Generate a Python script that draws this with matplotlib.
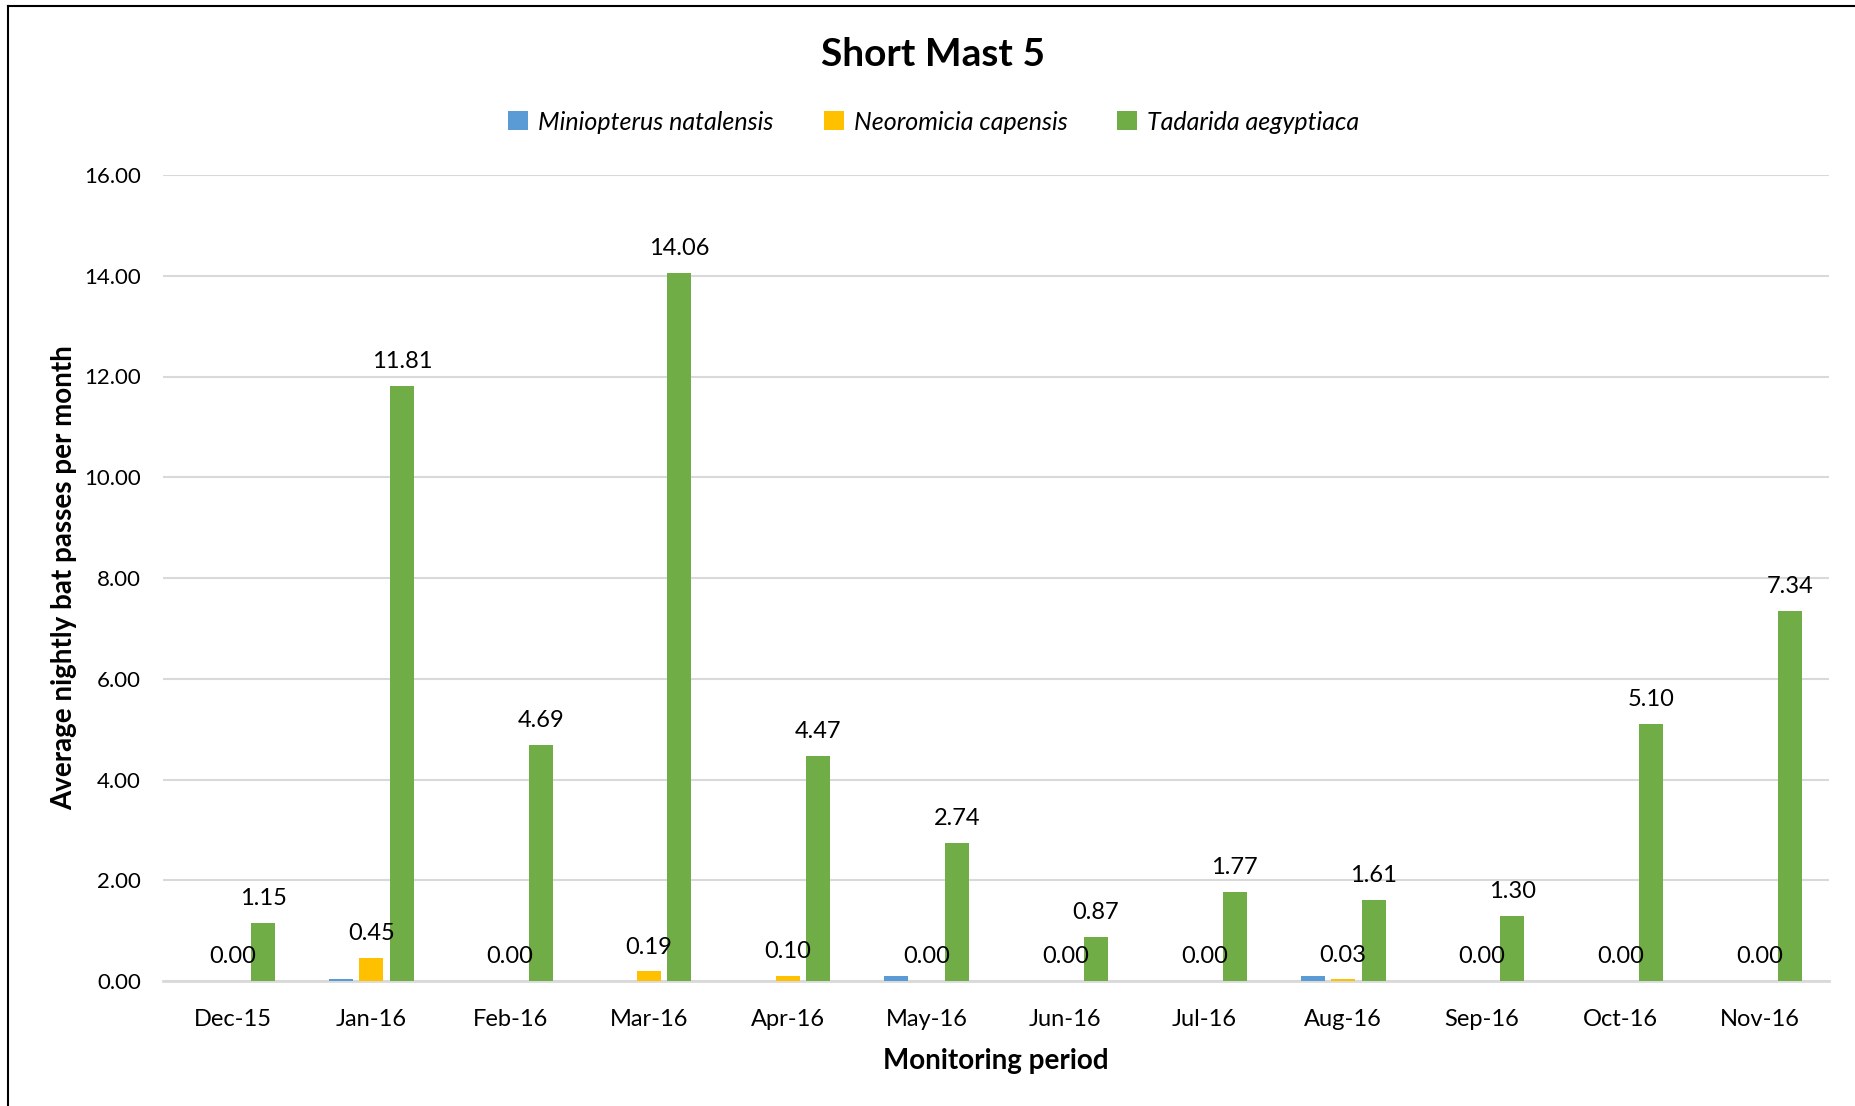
import numpy as np
import matplotlib
matplotlib.use("Agg")
import matplotlib.pyplot as plt
from matplotlib.lines import Line2D

plt.rcParams["font.family"] = ["Lato", "DejaVu Sans"]

months = ["Dec-15", "Jan-16", "Feb-16", "Mar-16", "Apr-16", "May-16",
          "Jun-16", "Jul-16", "Aug-16", "Sep-16", "Oct-16", "Nov-16"]
species = ["Miniopterus natalensis", "Neoromicia capensis", "Tadarida aegyptiaca"]
miniopterus = [0.00, 0.03, 0.00, 0.00, 0.00, 0.09, 0.00, 0.00, 0.09, 0.00, 0.00, 0.00]
neoromicia = [0.00, 0.45, 0.00, 0.19, 0.10, 0.00, 0.00, 0.00, 0.03, 0.00, 0.00, 0.00]
tadarida = [1.15, 11.81, 4.69, 14.06, 4.47, 2.74, 0.87, 1.77, 1.61, 1.30, 5.10, 7.34]
yticks = [0, 2, 4, 6, 8, 10, 12, 14, 16]

colors = ["#5B9BD5", "#FFC000", "#70AD47"]
series = [miniopterus, neoromicia, tadarida]
show_labels = [False, True, True]

fig = plt.figure(figsize=(18.56, 11.06), dpi=100)
ax = fig.add_axes([163 / 1856, 1 - 981 / 1106, (1829 - 163) / 1856, (981 - 175) / 1106])

x = np.arange(len(months))
step = 0.22
width = 0.173
for k, (vals, col, name) in enumerate(zip(series, colors, species)):
    bars = ax.bar(x + (k - 1) * step, vals, width, color=col, label=name, zorder=3)
    if show_labels[k]:
        ax.bar_label(bars, labels=["%.2f" % v for v in vals], padding=10,
                     fontsize=17, color="black", zorder=4)

ax.set_xlim(-0.5, len(months) - 0.5)
ax.set_ylim(0, 16)
ax.set_yticks(yticks)
ax.set_yticklabels(["%.2f" % v for v in yticks])
ax.set_xticks(x)
ax.set_xticklabels(months)
ax.tick_params(axis="y", length=0, pad=16, labelsize=16)
ax.tick_params(axis="x", length=0, pad=20, labelsize=17)
ax.grid(axis="y", color="#D9D9D9", linewidth=1.5, zorder=0)
for s in ["top", "right", "left"]:
    ax.spines[s].set_visible(False)
ax.spines["bottom"].set_color("#D9D9D9")
ax.spines["bottom"].set_linewidth(2)

ax.set_xlabel("Monitoring period", fontsize=20, fontweight="bold", labelpad=13)
ax.set_ylabel("Average nightly bat passes per month", fontsize=20, fontweight="bold", labelpad=5)

fig.text(933 / 1856, 1 - 55 / 1106, "Short Mast 5", fontsize=28, fontweight="bold",
         ha="center", va="center")
leg = fig.legend(loc="center", bbox_to_anchor=(934 / 1856, 1 - 122 / 1106), ncol=3,
                 frameon=False, prop={"style": "italic", "size": 18},
                 handlelength=0.8, handleheight=0.8, handletextpad=0.4, columnspacing=2.0)

# border lines (top and left, as in the cropped reference)
fig.add_artist(Line2D([8 / 1856, 1], [1 - 6 / 1106, 1 - 6 / 1106], color="black", linewidth=1.5))
fig.add_artist(Line2D([8 / 1856, 8 / 1856], [0, 1 - 6 / 1106], color="black", linewidth=1.5))

fig.savefig("out.png", dpi=100)
